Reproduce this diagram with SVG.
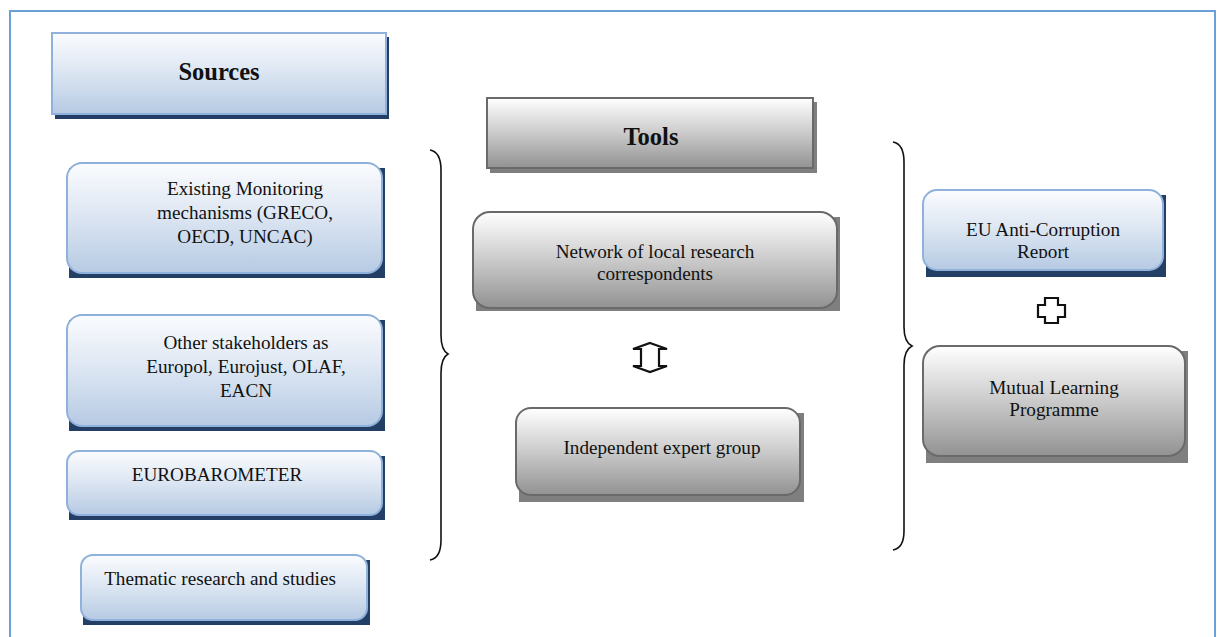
<svg xmlns="http://www.w3.org/2000/svg" width="1218" height="637" viewBox="0 0 1218 637">
<defs>
<linearGradient id="gb" x1="0" y1="0" x2="0" y2="1">
<stop offset="0" stop-color="#fbfcfe"/><stop offset="0.5" stop-color="#dbe5f2"/><stop offset="1" stop-color="#b6cae3"/>
</linearGradient>
<linearGradient id="gg" x1="0" y1="0" x2="0" y2="1">
<stop offset="0" stop-color="#ffffff"/><stop offset="0.45" stop-color="#d0d0d0"/><stop offset="1" stop-color="#929292"/>
</linearGradient>
<clipPath id="clipEU"><rect x="923" y="190" width="240" height="68"/></clipPath>
</defs>
<style>
.bb{fill:url(#gb);stroke:#8fb1db;stroke-width:2}
.bs{fill:#243f66}
.gb{fill:url(#gg);stroke:#6a6a6a;stroke-width:2}
.gs{fill:#7f7f7f}
.t{font-family:'Liberation Serif','DejaVu Serif',serif;font-size:19.2px;fill:#111;text-anchor:middle}
.h{font-weight:bold;font-size:24.5px}
.br{fill:none;stroke:#111;stroke-width:1.6}
.ar{fill:#fff;stroke:#111;stroke-width:2.2;stroke-linejoin:miter}
</style>
<rect width="1218" height="637" fill="#fff"/>
<path d="M10 640 V11 H1215 V640" fill="none" stroke="#6a9fd8" stroke-width="2"/>

<g id="sources">
<rect class="bs" x="55" y="37" width="334" height="82"/>
<rect class="bb" x="52" y="33" width="334" height="81"/>
<text class="t h" x="219" y="80">Sources</text>
</g>
<g id="existing">
<rect class="bs" x="69" y="168" width="316" height="110"/>
<rect class="bb" x="67" y="163" width="315" height="110" rx="15"/>
<text class="t" x="245" y="195">Existing Monitoring</text>
<text class="t" x="245" y="219">mechanisms (GRECO,</text>
<text class="t" x="245" y="243">OECD, UNCAC)</text>
</g>
<g id="stakeholders">
<rect class="bs" x="69" y="320" width="316" height="111"/>
<rect class="bb" x="67" y="315" width="315" height="111" rx="15"/>
<text class="t" x="246" y="349">Other stakeholders as</text>
<text class="t" x="246" y="373">Europol, Eurojust, OLAF,</text>
<text class="t" x="246" y="397">EACN</text>
</g>
<g id="eurobarometer">
<rect class="bs" x="69" y="456" width="316" height="64"/>
<rect class="bb" x="67" y="451" width="315" height="64" rx="12"/>
<text class="t" x="217" y="481">EUROBAROMETER</text>
</g>
<g id="thematic">
<rect class="bs" x="83" y="560" width="287" height="65"/>
<rect class="bb" x="81" y="555" width="286" height="65" rx="12"/>
<text class="t" x="220" y="585">Thematic research and studies</text>
</g>

<g id="tools">
<rect class="gs" x="490" y="102" width="327" height="71"/>
<rect class="gb" x="487" y="98" width="326" height="70"/>
<text class="t h" x="651" y="145">Tools</text>
</g>
<g id="network">
<rect class="gs" x="476" y="217" width="364" height="94"/>
<rect class="gb" x="473" y="212" width="364" height="96" rx="17"/>
<text class="t" x="655" y="258">Network of local research</text>
<text class="t" x="655" y="280">correspondents</text>
</g>
<g id="expert">
<rect class="gs" x="519" y="413" width="285" height="89"/>
<rect class="gb" x="516" y="408" width="284" height="87" rx="15"/>
<text class="t" x="662" y="454">Independent expert group</text>
</g>

<g id="report">
<rect class="bs" x="926" y="195" width="240" height="82"/>
<rect class="bb" x="923" y="190" width="240" height="80" rx="14"/>
<g clip-path="url(#clipEU)">
<text class="t" x="1043" y="236">EU Anti-Corruption</text>
<text class="t" x="1043" y="258">Report</text>
</g>
</g>
<g id="mutual">
<rect class="gs" x="926" y="351" width="262" height="112"/>
<rect class="gb" x="923" y="346" width="262" height="110" rx="17"/>
<text class="t" x="1054" y="394">Mutual Learning</text>
<text class="t" x="1054" y="416">Programme</text>
</g>

<g id="connectors">
<path class="br" d="M430 150 Q441 152 441 170 V335 Q441 350 448 354 Q441 358 441 373 V540 Q441 558 430 560"/>
<path class="br" d="M893 142 Q904 144 904 162 V327 Q904 342 912 346 Q904 350 904 365 V531 Q904 548 893 550"/>
<polygon class="ar" points="650,343 667,349 659,349 659,366 667,366 650,372 633,366 641,366 641,349 633,349"/>
<polygon class="ar" points="1045,298 1058,298 1058,305 1065,305 1065,317 1058,317 1058,323 1045,323 1045,317 1038,317 1038,305 1045,305"/>
</g>
</svg>
